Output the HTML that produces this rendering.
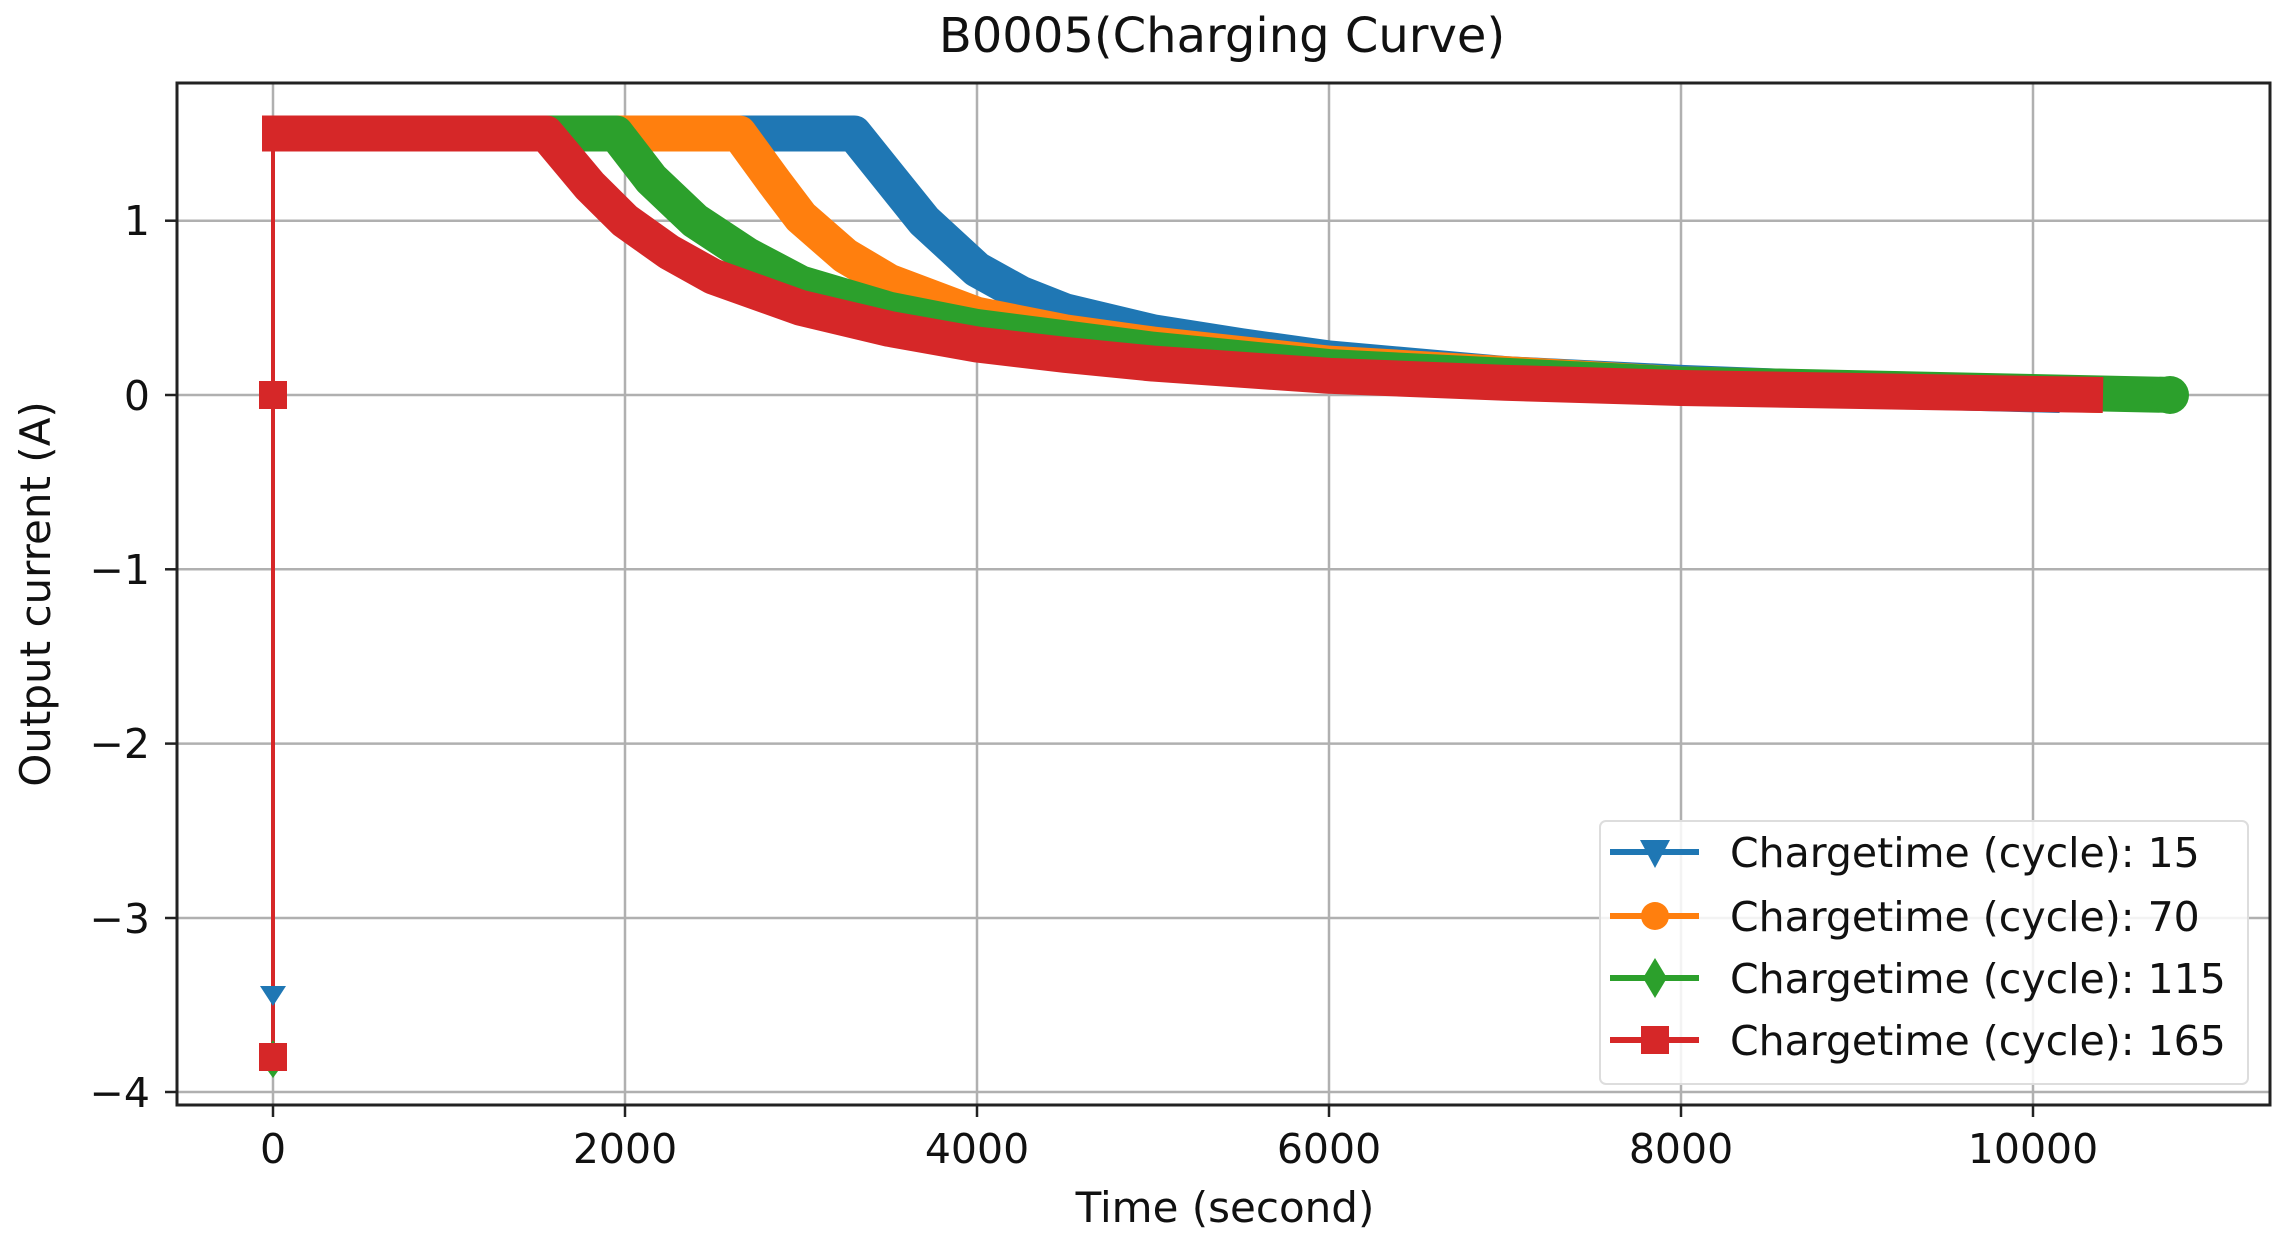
<!DOCTYPE html>
<html><head><meta charset="utf-8"><style>
html,body{margin:0;padding:0;background:#fff;}
svg{display:block;font-family:"DejaVu Sans","Liberation Sans",sans-serif;}
</style></head><body>
<svg width="2294" height="1243" viewBox="0 0 2294 1243" xmlns="http://www.w3.org/2000/svg">
<rect width="2294" height="1243" fill="#fff"/>
<text x="1222" y="52" font-size="48" text-anchor="middle" fill="#111">B0005(Charging Curve)</text>
<g stroke="#b0b0b0" stroke-width="2.5">
<line x1="273" y1="83" x2="273" y2="1105"/><line x1="625" y1="83" x2="625" y2="1105"/><line x1="977" y1="83" x2="977" y2="1105"/><line x1="1329" y1="83" x2="1329" y2="1105"/><line x1="1681" y1="83" x2="1681" y2="1105"/><line x1="2033" y1="83" x2="2033" y2="1105"/>
<line x1="177" y1="220.7" x2="2270" y2="220.7"/><line x1="177" y1="395" x2="2270" y2="395"/><line x1="177" y1="569.3" x2="2270" y2="569.3"/><line x1="177" y1="743.6" x2="2270" y2="743.6"/><line x1="177" y1="918" x2="2270" y2="918"/><line x1="177" y1="1092" x2="2270" y2="1092"/>
</g>
<g fill="none" stroke-width="36" stroke-linejoin="round">
<polyline stroke="#1f77b4" points="262,133.5 854,133.5 889,177.1 924,220.7 977,269.5 1021,293.9 1065,311.3 1153,332.3 1241,346.2 1329,358.4 1505,374.1 1681,382.8 1857,389.8 2060,395"/>
<polyline stroke="#ff7f0e" points="262,133.5 739,133.5 774.6,182.4 801,217.2 845,255.6 889,281.7 977,314.8 1065,332.3 1153,344.5 1329,363.6 1681,384.5 2103,395"/>
<polyline stroke="#2ca02c" points="262,133.5 616,133.5 651,178.9 695,220.7 748,255.6 801,283.5 889,309.6 977,327 1153,349.7 1329,367.1 1681,384.5 2174,395"/>
<polyline stroke="#d62728" points="262,133.5 546,133.5 589.8,185.8 625,220.7 669,252 713,276.5 801,307.9 889,328.8 977,344.5 1065,354.9 1153,363.6 1329,375.8 1505,382.8 1681,388 2103,395"/>
</g>
<circle cx="2170" cy="395" r="19" fill="#2ca02c"/>
<line x1="273" y1="133" x2="273" y2="1057" stroke="#d62728" stroke-width="4"/>
<polygon points="260,986 286,986 273,1006" fill="#1f77b4"/>
<polygon points="273,1040 286,1060 273,1078 260,1060" fill="#2ca02c"/>
<rect x="259" y="381" width="28" height="28" fill="#d62728"/>
<rect x="259" y="1043" width="28" height="28" fill="#d62728"/>
<rect x="177" y="83" width="2093" height="1022" fill="none" stroke="#222" stroke-width="3"/>
<g stroke="#222" stroke-width="2.5">
<line x1="273" y1="1105" x2="273" y2="1117"/><line x1="625" y1="1105" x2="625" y2="1117"/><line x1="977" y1="1105" x2="977" y2="1117"/><line x1="1329" y1="1105" x2="1329" y2="1117"/><line x1="1681" y1="1105" x2="1681" y2="1117"/><line x1="2033" y1="1105" x2="2033" y2="1117"/>
<line x1="165" y1="220.7" x2="177" y2="220.7"/><line x1="165" y1="395" x2="177" y2="395"/><line x1="165" y1="569.3" x2="177" y2="569.3"/><line x1="165" y1="743.6" x2="177" y2="743.6"/><line x1="165" y1="918" x2="177" y2="918"/><line x1="165" y1="1092" x2="177" y2="1092"/>
</g>
<g font-size="41" fill="#111" text-anchor="middle">
<text x="273" y="1163">0</text><text x="625" y="1163">2000</text><text x="977" y="1163">4000</text><text x="1329" y="1163">6000</text><text x="1681" y="1163">8000</text><text x="2033" y="1163">10000</text>
</g>
<g font-size="41" fill="#111" text-anchor="end">
<text x="150" y="235">1</text><text x="150" y="410">0</text><text x="150" y="584">−1</text><text x="150" y="758">−2</text><text x="150" y="933">−3</text><text x="150" y="1107">−4</text>
</g>
<text x="1225" y="1222" font-size="42" text-anchor="middle" fill="#111">Time (second)</text>
<text transform="translate(50,594) rotate(-90)" font-size="42" text-anchor="middle" fill="#111">Output current (A)</text>
<rect x="1600" y="821" width="648" height="263" rx="6" fill="#fff" fill-opacity="0.85" stroke="#ddd" stroke-width="2"/>
<g stroke-width="6">
<line x1="1610" y1="852" x2="1699" y2="852" stroke="#1f77b4"/><polygon points="1640,840 1670,840 1655,868" fill="#1f77b4" stroke="none"/>
<line x1="1610" y1="916" x2="1699" y2="916" stroke="#ff7f0e"/><circle cx="1655" cy="916" r="14" fill="#ff7f0e" stroke="none"/>
<line x1="1610" y1="978" x2="1699" y2="978" stroke="#2ca02c"/><polygon points="1655,958 1667,978 1655,998 1643,978" fill="#2ca02c" stroke="none"/>
<line x1="1610" y1="1040" x2="1699" y2="1040" stroke="#d62728"/><rect x="1641" y="1026" width="28" height="28" fill="#d62728" stroke="none"/>
</g>
<g font-size="41" fill="#111">
<text x="1730" y="867">Chargetime (cycle): 15</text>
<text x="1730" y="931">Chargetime (cycle): 70</text>
<text x="1730" y="993">Chargetime (cycle): 115</text>
<text x="1730" y="1055">Chargetime (cycle): 165</text>
</g>
</svg>
</body></html>
